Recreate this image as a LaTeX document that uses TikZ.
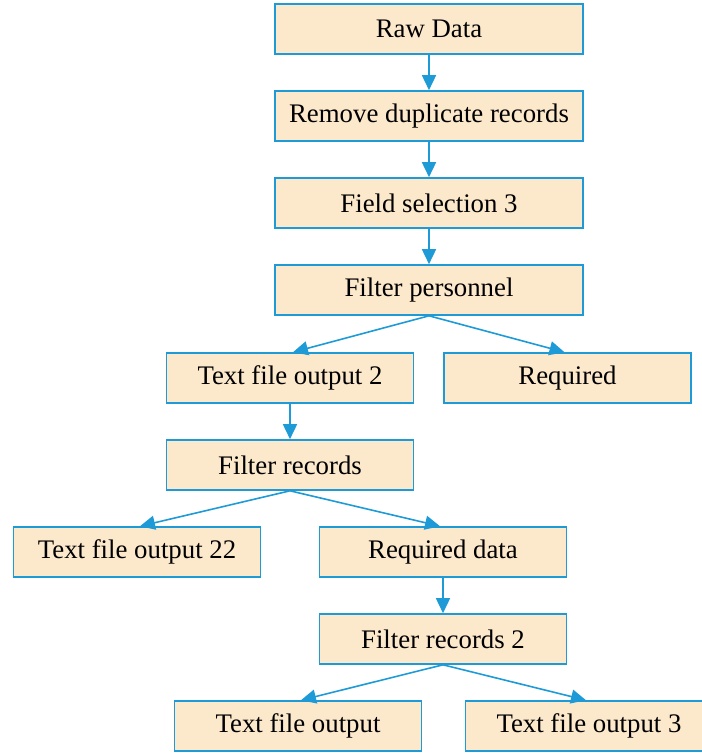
\documentclass[tikz,border=0pt]{standalone}
\usepackage{fontspec}
\setmainfont{Liberation Serif}
\usetikzlibrary{arrows.meta,calc}
\definecolor{boxfill}{HTML}{FCE8CB}
\definecolor{boxline}{HTML}{1E9BD7}
\tikzset{
  flowbox/.style={draw=boxline, fill=boxfill, line width=1.6pt, rectangle,
    minimum height=50pt, inner sep=0pt, font=\fontsize{26.8}{30}\selectfont},
  widebox/.style={flowbox, minimum width=308pt},
  narrowbox/.style={flowbox, minimum width=247pt},
  flowarrow/.style={draw=boxline, line width=1.6pt, -{Triangle[length=15pt,width=14pt]}}
}
\begin{document}
\begin{tikzpicture}[x=1pt,y=-1pt]
\useasboundingbox (0,0) rectangle (702,756);
\node[widebox] (raw) at (429,29) {Raw Data};
\node[widebox] (dup) at (429,116) {Remove duplicate records};
\node[widebox] (field) at (429,203) {Field selection 3};
\node[widebox] (pers) at (429,290) {Filter personnel};
\node[narrowbox] (tfo2) at (290,378) {Text file output 2};
\node[narrowbox] (req) at (567.5,378) {Required};
\node[narrowbox] (frec) at (290,465) {Filter records};
\node[narrowbox] (tfo22) at (137,552) {Text file output 22};
\node[narrowbox] (reqd) at (443,552) {Required data};
\node[narrowbox] (frec2) at (443,639) {Filter records 2};
\node[narrowbox] (tfo) at (298,726) {Text file output};
\node[narrowbox] (tfo3) at (589,726) {Text file output 3};

\draw[flowarrow] (raw.south) -- (dup.north);
\draw[flowarrow] (dup.south) -- (field.north);
\draw[flowarrow] (field.south) -- (pers.north);
\draw[flowarrow] (pers.south) -- ($(tfo2.north)+(3,0)$);
\draw[flowarrow] (pers.south) -- ($(req.north)+(-3,0)$);
\draw[flowarrow] (tfo2.south) -- (frec.north);
\draw[flowarrow] (frec.south) -- ($(tfo22.north)+(3,0)$);
\draw[flowarrow] (frec.south) -- ($(reqd.north)+(-3,0)$);
\draw[flowarrow] (reqd.south) -- (frec2.north);
\draw[flowarrow] (frec2.south) -- ($(tfo.north)+(3,0)$);
\draw[flowarrow] (frec2.south) -- ($(tfo3.north)+(-3,0)$);
\end{tikzpicture}
\end{document}
